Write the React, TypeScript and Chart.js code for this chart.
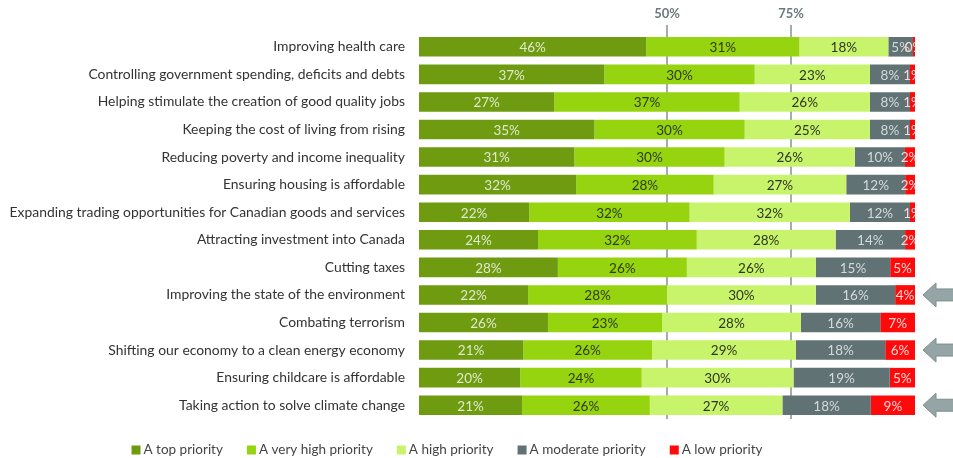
import React, { useEffect, useRef } from "react";
import { Chart, registerables } from "chart.js";

Chart.register(...registerables);

const categories = [
  "Improving health care",
  "Controlling government spending, deficits and debts",
  "Helping stimulate the creation of good quality jobs",
  "Keeping the cost of living from rising",
  "Reducing poverty and income inequality",
  "Ensuring housing is affordable",
  "Expanding trading opportunities for Canadian goods and services",
  "Attracting investment into Canada",
  "Cutting taxes",
  "Improving the state of the environment",
  "Combating terrorism",
  "Shifting our economy to a clean energy economy",
  "Ensuring childcare is affordable",
  "Taking action to solve climate change",
];

const topPriority = [46, 37, 27, 35, 31, 32, 22, 24, 28, 22, 26, 21, 20, 21];
const veryHighPriority = [31, 30, 37, 30, 30, 28, 32, 32, 26, 28, 23, 26, 24, 26];
const highPriority = [18, 23, 26, 25, 26, 27, 32, 28, 26, 30, 28, 29, 30, 27];
const moderatePriority = [5, 8, 8, 8, 10, 12, 12, 14, 15, 16, 16, 18, 19, 18];
const lowPriority = [0.4, 1, 1, 1, 2, 2, 1, 2, 5, 4, 7, 6, 5, 9];

const seriesNames = [
  "A top priority",
  "A very high priority",
  "A high priority",
  "A moderate priority",
  "A low priority",
];
const seriesColors = ["#6f9b10", "#95d40e", "#c8f46c", "#607273", "#ff0a0a"];
const labelColors = ["#dfe9cc", "#2f3a12", "#2f3520", "#d3dadb", "#ffd6d6"];

const gridTickValues = [50, 75];
const arrowRows = [9, 11, 13];

const FONT = "Lato, 'Open Sans', sans-serif";

export default function App() {
  const canvasRef = useRef<HTMLCanvasElement | null>(null);

  useEffect(() => {
    const canvas = canvasRef.current;
    if (!canvas) return;
    const series = [topPriority, veryHighPriority, highPriority, moderatePriority, lowPriority];
    const rowSums = categories.map((_, i) => series.reduce((s, arr) => s + arr[i], 0));

    const datasets = series.map((arr, k) => ({
      label: seriesNames[k],
      data: arr.map((v, i) => (v / rowSums[i]) * 100),
      rawValues: arr,
      backgroundColor: seriesColors[k],
      borderWidth: 0,
      barPercentage: 0.71,
      categoryPercentage: 1,
    }));

    const labelPlugin = {
      id: "segLabels",
      afterDatasetsDraw(chart: any) {
        const ctx = chart.ctx;
        const area = chart.chartArea;
        ctx.save();
        ctx.beginPath();
        ctx.rect(area.left, area.top - 2, area.right - area.left, area.bottom - area.top + 4);
        ctx.clip();
        ctx.font = `13.5px ${FONT}`;
        ctx.textAlign = "center";
        ctx.textBaseline = "middle";
        chart.data.datasets.forEach((ds: any, k: number) => {
          const meta = chart.getDatasetMeta(k);
          meta.data.forEach((el: any, i: number) => {
            const cx = (el.x + el.base) / 2;
            ctx.fillStyle = labelColors[k];
            ctx.fillText(Math.round(ds.rawValues[i]) + "%", cx, el.y + 1);
          });
        });
        ctx.restore();
      },
    };

    const arrowPlugin = {
      id: "arrows",
      afterDraw(chart: any) {
        const ctx = chart.ctx;
        const yScale = chart.scales.y;
        ctx.save();
        ctx.fillStyle = "#95a5a5";
        ctx.strokeStyle = "#7d8e8e";
        ctx.lineWidth = 1;
        arrowRows.forEach((r) => {
          const y = yScale.getPixelForValue(r);
          const tip = chart.chartArea.right + 8;
          ctx.beginPath();
          ctx.moveTo(tip, y);
          ctx.lineTo(tip + 13, y - 12);
          ctx.lineTo(tip + 13, y - 6);
          ctx.lineTo(tip + 40, y - 6);
          ctx.lineTo(tip + 40, y + 6);
          ctx.lineTo(tip + 13, y + 6);
          ctx.lineTo(tip + 13, y + 12);
          ctx.closePath();
          ctx.fill();
          ctx.stroke();
        });
        ctx.restore();
      },
    };

    const legendPlugin = {
      id: "customLegend",
      afterDraw(chart: any) {
        const ctx = chart.ctx;
        ctx.save();
        ctx.font = `13.5px ${FONT}`;
        ctx.textBaseline = "middle";
        ctx.textAlign = "left";
        const box = 9;
        const gapBoxText = 3;
        const gapItems = 24;
        const widths = seriesNames.map((n) => box + gapBoxText + ctx.measureText(n).width);
        const total = widths.reduce((a, b) => a + b, 0) + gapItems * (widths.length - 1);
        let x = 447 - total / 2;
        const y = 450;
        seriesNames.forEach((n, k) => {
          ctx.fillStyle = seriesColors[k];
          ctx.fillRect(x, y - box / 2, box, box);
          ctx.fillStyle = "#444444";
          ctx.fillText(n, x + box + gapBoxText, y);
          x += widths[k] + gapItems;
        });
        ctx.restore();
      },
    };

    const chart = new Chart(canvas, {
      type: "bar",
      data: { labels: categories, datasets: datasets as any },
      options: {
        indexAxis: "y",
        animation: false,
        responsive: false,
        maintainAspectRatio: false,
        layout: { padding: { left: 0, right: 38, top: 0, bottom: 39 } },
        plugins: {
          legend: { display: false },
          tooltip: { enabled: false },
          title: { display: false },
        },
        scales: {
          x: {
            position: "top",
            stacked: true,
            min: 0,
            max: 100,
            afterBuildTicks(scale: any) {
              scale.ticks = gridTickValues.map((v) => ({ value: v }));
            },
            afterFit(scale: any) {
              scale.height = 33;
            },
            border: { display: false },
            grid: {
              color: "#a3adad",
              lineWidth: 2,
              tickLength: 8,
              drawTicks: true,
            },
            ticks: {
              padding: 3,
              color: "#6b7a7a",
              font: { family: FONT, size: 13, weight: "bold" },
              callback: (v: any) => v + "%",
            },
          },
          y: {
            stacked: true,
            afterFit(scale: any) {
              scale.width = 419;
            },
            border: { display: false },
            grid: { display: false, drawTicks: false },
            ticks: {
              padding: 14,
              color: "#333333",
              font: { family: FONT, size: 13.9 },
              autoSkip: false,
            },
          },
        },
      },
      plugins: [labelPlugin, arrowPlugin, legendPlugin],
    });

    return () => chart.destroy();
  }, []);

  return (
    <div style={{ position: "fixed", left: 0, top: 0, width: 953, height: 458, background: "#fff" }}>
      <canvas ref={canvasRef} width={953} height={458} />
    </div>
  );
}
